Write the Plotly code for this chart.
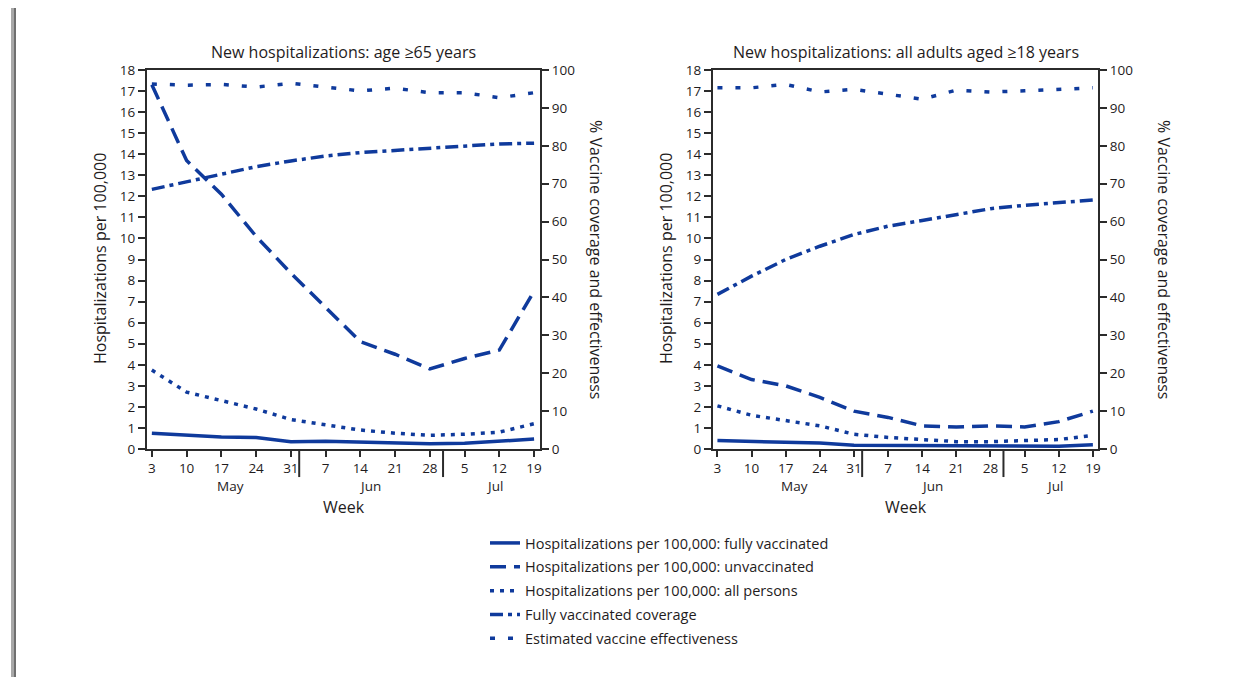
import plotly.graph_objects as go

week_labels = ["3", "10", "17", "24", "31", "7", "14", "21", "28", "5", "12", "19"]
month_labels = ["May", "Jun", "Jul"]
month_pos = [2.25, 6.29, 9.87]
month_breaks = [4.24, 8.38]

# Panel 1: age >=65
old_fully = [0.75, 0.68, 0.57, 0.55, 0.35, 0.37, 0.33, 0.25, 0.25, 0.27, 0.38, 0.47]
old_unvax = [17.3, 13.7, 12.1, 10.1, 8.35, 6.7, 5.1, 4.5, 3.8, 4.3, 4.7, 7.5]
old_all = [3.75, 2.7, 2.3, 1.9, 1.4, 1.15, 0.9, 0.75, 0.65, 0.7, 0.8, 1.2]
old_cov = [68.5, 70.5, 72.5, 74.5, 76.0, 77.3, 78.2, 78.8, 79.5, 80.1, 80.5, 80.7]
old_ve = [96.3, 96.0, 96.2, 95.5, 96.5, 95.5, 94.5, 95.2, 94.0, 94.0, 92.7, 94.0]

# Panel 2: all adults >=18
adult_fully = [0.4, 0.35, 0.3, 0.28, 0.18, 0.17, 0.17, 0.13, 0.13, 0.13, 0.13, 0.2]
adult_unvax = [3.95, 3.3, 3.0, 2.45, 1.8, 1.5, 1.1, 1.05, 1.1, 1.05, 1.3, 1.8]
adult_all = [2.05, 1.6, 1.35, 1.1, 0.7, 0.55, 0.45, 0.35, 0.35, 0.38, 0.45, 0.65]
adult_cov = [40.8, 45.6, 50.0, 53.5, 56.6, 58.8, 60.3, 61.9, 63.4, 64.3, 65.0, 65.7]
adult_ve = [95.3, 95.3, 96.2, 94.2, 94.9, 93.6, 92.3, 94.7, 94.2, 94.5, 94.9, 95.3]

series_names = [
    "Hospitalizations per 100,000: fully vaccinated",
    "Hospitalizations per 100,000: unvaccinated",
    "Hospitalizations per 100,000: all persons",
    "Fully vaccinated coverage",
    "Estimated vaccine effectiveness",
]
dashes = ["solid", "16px,8px", "4px,6px", "13px,5px,4px,5px", "5px,13px"]

BLUE = "#0f3a9c"
TXT = "#1f1c1d"
AX = "#2b2b2b"
FONT = "Open Sans"
x = list(range(len(week_labels)))

fig = go.Figure()

panels = [
    (("x", "y"), ("x", "y2"), [old_fully, old_unvax, old_all], [old_cov, old_ve], True),
    (("x2", "y3"), ("x2", "y4"), [adult_fully, adult_unvax, adult_all], [adult_cov, adult_ve], False),
]
for (lax, rax, left_series, right_series, show) in panels:
    for i, ys in enumerate(left_series):
        fig.add_trace(go.Scatter(x=x, y=ys, xaxis=lax[0], yaxis=lax[1], mode="lines",
                                 name=series_names[i], legendgroup=f"g{i}", showlegend=show,
                                 line=dict(color=BLUE, width=3.5, dash=dashes[i])))
    for j, ys in enumerate(right_series):
        i = j + 3
        fig.add_trace(go.Scatter(x=x, y=ys, xaxis=rax[0], yaxis=rax[1], mode="lines",
                                 name=series_names[i], legendgroup=f"g{i}", showlegend=show,
                                 line=dict(color=BLUE, width=3.5, dash=dashes[i])))

W, H = 1248, 677
OFF = 8  # page body margin
def px(v): return (v - OFF) / W
def py(v): return 1 - (v - OFF) / H

ydom = [py(449), py(70)]
axis_common = dict(showline=True, linecolor=AX, linewidth=2, ticks="outside",
                   ticklen=7, tickwidth=2, tickcolor=AX, showgrid=False, zeroline=False,
                   automargin=False, tickfont=dict(family=FONT, size=13.5, color=TXT))
xaxis_common = dict(axis_common, ticklen=6)

fig.update_layout(
    template="none",
    width=W, height=H, paper_bgcolor="white", plot_bgcolor="white",
    margin=dict(l=0, r=0, t=0, b=0, autoexpand=False),
    font=dict(family=FONT, color=TXT),
    xaxis=dict(domain=[px(147), px(540)], range=[-0.14, 11.17], tickvals=x, ticktext=week_labels,
               anchor="y", mirror=True, **xaxis_common),
    yaxis=dict(domain=ydom, range=[0, 18], dtick=1, anchor="x", **axis_common),
    yaxis2=dict(overlaying="y", side="right", range=[0, 100], dtick=10, anchor="x", **axis_common),
    xaxis2=dict(domain=[px(713), px(1098)], range=[-0.13, 11.15], tickvals=x, ticktext=week_labels,
                anchor="y3", mirror=True, **xaxis_common),
    yaxis3=dict(domain=ydom, range=[0, 18], dtick=1, anchor="x2", **axis_common),
    yaxis4=dict(overlaying="y3", side="right", range=[0, 100], dtick=10, anchor="x2", **axis_common),
    showlegend=True,
    legend=dict(x=px(485), y=py(527), xanchor="left", yanchor="top", tracegroupgap=2,
                font=dict(family=FONT, size=14.5, color=TXT), bgcolor="rgba(0,0,0,0)"),
)

ann = []
for xa, cx, title in [("x", (147 + 540) / 2, "New hospitalizations: age ≥65 years"),
                      ("x2", (713 + 1098) / 2, "New hospitalizations: all adults aged ≥18 years")]:
    ann.append(dict(x=px(cx), y=py(52), xref="paper", yref="paper", text=title, showarrow=False,
                    xanchor="center", yanchor="middle", font=dict(size=16, color=TXT, family=FONT)))
    for m, p in zip(month_labels, month_pos):
        ann.append(dict(x=p, y=py(486), xref=xa, yref="paper", text=m, showarrow=False,
                        xanchor="center", yanchor="middle", font=dict(size=13.5, color=TXT, family=FONT)))
    ann.append(dict(x=px(cx), y=py(507), xref="paper", yref="paper", text="Week", showarrow=False,
                    xanchor="center", yanchor="middle", font=dict(size=16, color=TXT, family=FONT)))
for lx, rx in [(100, 596), (666, 1164)]:
    ann.append(dict(x=px(lx), y=py(259), xref="paper", yref="paper", text="Hospitalizations per 100,000",
                    textangle=-90, showarrow=False, xanchor="center", yanchor="middle",
                    font=dict(size=16, color=TXT, family=FONT)))
    ann.append(dict(x=px(rx), y=py(259), xref="paper", yref="paper", text="% Vaccine coverage and effectiveness",
                    textangle=90, showarrow=False, xanchor="center", yanchor="middle",
                    font=dict(size=16, color=TXT, family=FONT)))
fig.update_layout(annotations=ann)

shapes = []
for xa, ya in [("x", "y"), ("x2", "y3")]:
    for b in month_breaks:
        shapes.append(dict(type="line", xref=xa, yref=f"{ya} domain", x0=b, x1=b, y0=0, y1=-0.074,
                           line=dict(color=AX, width=2)))
# page edge line seen at the left of the reference
shapes.append(dict(type="line", xref="paper", yref="paper", x0=px(12.5), x1=px(12.5), y0=-0.02, y1=py(5),
                   line=dict(color="#a8a8a8", width=3)))
shapes.append(dict(type="line", xref="paper", yref="paper", x0=px(15), x1=px(15), y0=-0.02, y1=py(5),
                   line=dict(color="#6f6f6f", width=2)))
fig.update_layout(shapes=shapes)

fig.write_html("out.html")
